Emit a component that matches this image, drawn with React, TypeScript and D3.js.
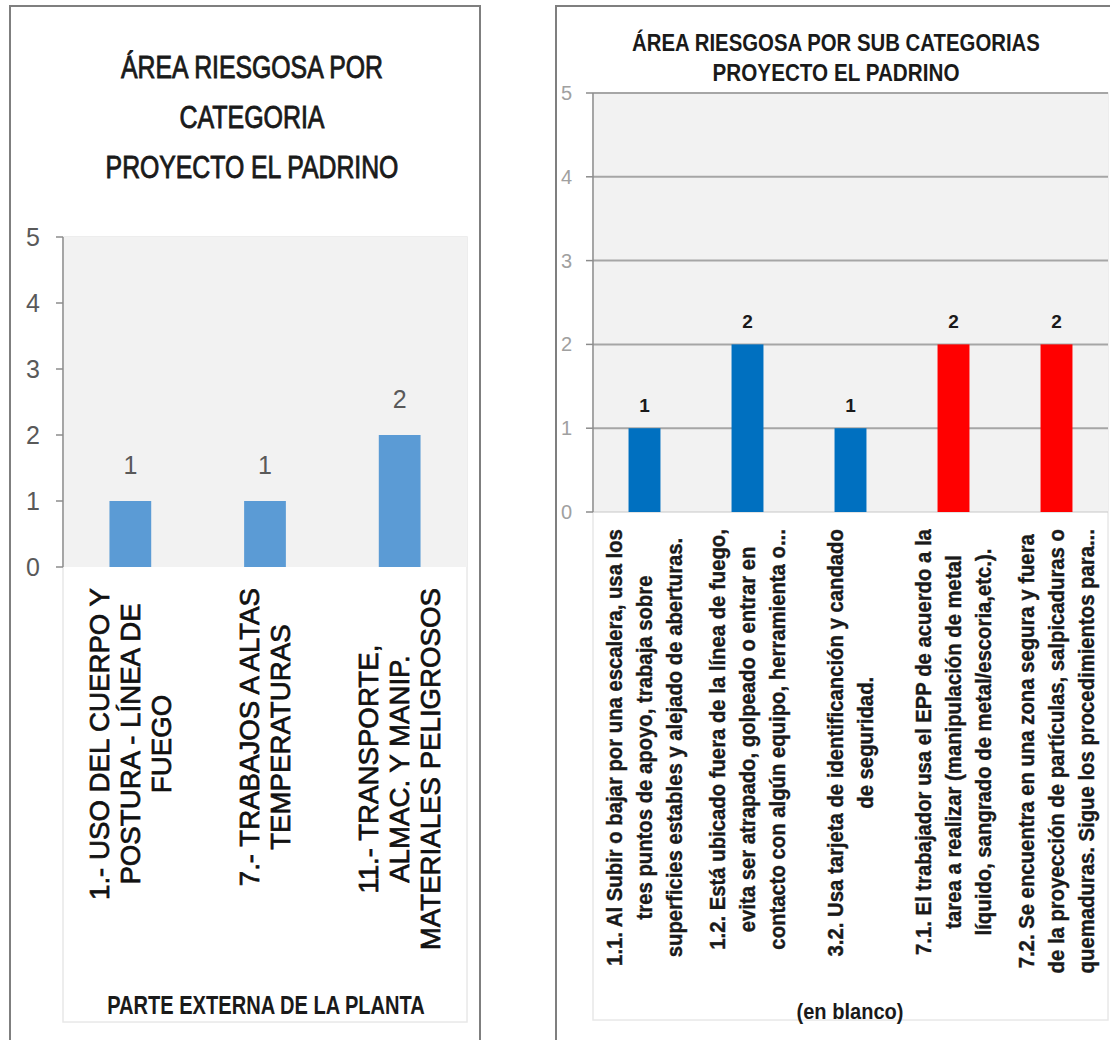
import React, { useEffect, useRef } from "react";
import * as d3 from "d3";

// ---------- DATA ----------
const leftTitle = ["ÁREA RIESGOSA POR", "CATEGORIA", "PROYECTO EL PADRINO"];
const leftCategories = [
  ["1.- USO DEL CUERPO Y", "POSTURA - LÍNEA DE", "FUEGO"],
  ["7.- TRABAJOS A ALTAS", "TEMPERATURAS"],
  ["11.- TRANSPORTE,", "ALMAC. Y MANIP.", "MATERIALES PELIGROSOS"],
];
const leftValues = [1, 1, 2];
const leftAxisTitle = "PARTE EXTERNA DE LA PLANTA";

const yTicks = [0, 1, 2, 3, 4, 5];

const rightTitle = ["ÁREA RIESGOSA POR SUB CATEGORIAS", "PROYECTO EL PADRINO"];
const rightCategories = [
  [
    "1.1. Al Subir o bajar por una escalera, usa los",
    "tres puntos de apoyo, trabaja sobre",
    "superficies estables y alejado de aberturas.",
  ],
  [
    "1.2. Está ubicado fuera de la línea de fuego,",
    "evita ser atrapado, golpeado o entrar en",
    "contacto con algún equipo, herramienta o...",
  ],
  ["3.2. Usa tarjeta de identificanción y candado", "de seguridad."],
  [
    "7.1. El trabajador usa el EPP de acuerdo a la",
    "tarea a realizar (manipulación de metal",
    "líquido, sangrado de metal/escoria,etc.).",
  ],
  [
    "7.2. Se encuentra en una zona segura y fuera",
    "de la proyección de partículas, salpicaduras o",
    "quemaduras. Sigue los procedimientos para...",
  ],
];
const rightValues = [1, 2, 1, 2, 2];
const rightGroups = ["1", "1", "3", "7", "7"];
const rightAxisTitle = "(en blanco)";

// ---------- STYLE ----------
const FONT = "'Liberation Sans', Arial, sans-serif";
const groupColor: Record<string, string> = { "1": "#0070c0", "3": "#0070c0", "7": "#ff0000" };

type Sel = d3.Selection<SVGSVGElement, unknown, null, undefined>;

// Horizontally condensed text (imitates the narrow Calibri face of the original)
function condensedText(
  svg: Sel,
  text: string,
  o: { x: number; y: number; width: number; size: number; weight: string; fill: string; stroke?: number }
) {
  const t = svg
    .append("text")
    .attr("font-family", FONT)
    .attr("font-size", o.size)
    .attr("font-weight", o.weight)
    .attr("fill", o.fill)
    .attr("text-anchor", "middle")
    .text(text);
  if (o.stroke) t.attr("stroke", o.fill).attr("stroke-width", o.stroke);
  const natural = (t.node() as SVGTextElement).getComputedTextLength();
  const sx = o.width / natural;
  t.attr("transform", `translate(${o.x},${o.y}) scale(${sx},1)`);
  return t;
}

function rotatedLabels(
  svg: Sel,
  cats: string[][],
  x: d3.ScaleBand<number>,
  opts: {
    top: number;
    gap: number;
    size: number;
    weight: string;
    fill: string;
    refLen: number;
    stroke: number;
  }
) {
  const g = svg.append("g");
  const probe = g
    .append("text")
    .attr("font-family", FONT)
    .attr("font-size", opts.size)
    .attr("font-weight", opts.weight)
    .text(cats[0][0]);
  const natural = (probe.node() as SVGTextElement).getComputedTextLength();
  probe.remove();
  const sx = opts.refLen / natural;

  cats.forEach((lines, i) => {
    const cx = (x(i) as number) + x.bandwidth() / 2;
    const texts = lines.map((line) =>
      g
        .append("text")
        .attr("font-family", FONT)
        .attr("font-size", opts.size)
        .attr("font-weight", opts.weight)
        .attr("fill", opts.fill)
        .attr("stroke", opts.fill)
        .attr("stroke-width", opts.stroke)
        .attr("text-anchor", "middle")
        .text(line)
    );
    const maxLen = d3.max(texts, (t) => (t.node() as SVGTextElement).getComputedTextLength()) as number;
    const cy = opts.top + (maxLen * sx) / 2;
    const n = lines.length;
    texts.forEach((t, j) => {
      const lx = cx + (j - (n - 1) / 2) * opts.gap + opts.size * 0.36;
      t.attr("transform", `translate(${lx},${cy}) rotate(-90) scale(${sx},1)`);
    });
  });
}

function drawLeft(svg: Sel) {
  svg
    .append("rect")
    .attr("x", 10)
    .attr("y", 6)
    .attr("width", 470)
    .attr("height", 1060)
    .attr("fill", "#fff")
    .attr("stroke", "#7f7f7f")
    .attr("stroke-width", 2);

  const titleW = [262, 145, 293];
  leftTitle.forEach((t, i) => {
    condensedText(svg, t, {
      x: 252,
      y: 78 + i * 50,
      width: titleW[i],
      size: 31,
      weight: "normal",
      fill: "#1a1a1a",
      stroke: 0.9,
    });
  });

  const x = d3
    .scaleBand<number>()
    .domain(d3.range(leftValues.length))
    .range([63, 467])
    .paddingInner(0.69)
    .paddingOuter(0.345);
  const y = d3.scaleLinear().domain([0, 5]).range([567, 237]);

  svg
    .append("rect")
    .attr("x", 63)
    .attr("y", y(5))
    .attr("width", 404)
    .attr("height", 785)
    .attr("fill", "none")
    .attr("stroke", "#e8e8e8")
    .attr("stroke-width", 1.5);
  svg
    .append("rect")
    .attr("x", 63)
    .attr("y", y(5))
    .attr("width", 404)
    .attr("height", y(0) - y(5))
    .attr("fill", "#f2f2f2");

  svg
    .append("line")
    .attr("x1", 63)
    .attr("x2", 63)
    .attr("y1", y(0))
    .attr("y2", y(5))
    .attr("stroke", "#8c8c8c")
    .attr("stroke-width", 1.5);
  yTicks.forEach((t) => {
    svg
      .append("line")
      .attr("x1", 56)
      .attr("x2", 63)
      .attr("y1", y(t))
      .attr("y2", y(t))
      .attr("stroke", "#8c8c8c")
      .attr("stroke-width", 1.5);
    svg
      .append("text")
      .attr("x", 40)
      .attr("y", y(t) + 9)
      .attr("text-anchor", "end")
      .attr("font-family", FONT)
      .attr("font-size", 25)
      .attr("fill", "#595959")
      .text(t);
  });

  svg
    .append("g")
    .selectAll("rect")
    .data(leftValues)
    .join("rect")
    .attr("x", (_, i) => x(i) as number)
    .attr("width", x.bandwidth())
    .attr("y", (d) => y(d))
    .attr("height", (d) => y(0) - y(d))
    .attr("fill", "#5b9bd5");

  svg
    .append("g")
    .selectAll("text")
    .data(leftValues)
    .join("text")
    .attr("x", (_, i) => (x(i) as number) + x.bandwidth() / 2)
    .attr("y", (d) => y(d) - 27)
    .attr("text-anchor", "middle")
    .attr("font-family", FONT)
    .attr("font-size", 25)
    .attr("fill", "#595959")
    .text((d) => d);

  rotatedLabels(svg, leftCategories, x, {
    top: 588,
    gap: 31,
    size: 27,
    weight: "normal",
    fill: "#111",
    refLen: 312,
    stroke: 0.7,
  });

  condensedText(svg, leftAxisTitle, {
    x: 266,
    y: 1014,
    width: 318,
    size: 25,
    weight: "bold",
    fill: "#1a1a1a",
  });
}

function drawRight(svg: Sel) {
  svg
    .append("rect")
    .attr("x", 556)
    .attr("y", 6)
    .attr("width", 600)
    .attr("height", 1060)
    .attr("fill", "#fff")
    .attr("stroke", "#7f7f7f")
    .attr("stroke-width", 2);

  const titleW = [408, 247];
  rightTitle.forEach((t, i) => {
    condensedText(svg, t, {
      x: 836,
      y: 51 + i * 30,
      width: titleW[i],
      size: 23,
      weight: "bold",
      fill: "#1a1a1a",
    });
  });

  const x = d3
    .scaleBand<number>()
    .domain(d3.range(rightValues.length))
    .range([593, 1108])
    .paddingInner(0.69)
    .paddingOuter(0.345);
  const y = d3.scaleLinear().domain([0, 5]).range([512, 93]);

  svg
    .append("rect")
    .attr("x", 593)
    .attr("y", y(5))
    .attr("width", 515)
    .attr("height", 927)
    .attr("fill", "none")
    .attr("stroke", "#e8e8e8")
    .attr("stroke-width", 1.5);
  svg
    .append("rect")
    .attr("x", 593)
    .attr("y", y(5))
    .attr("width", 515)
    .attr("height", y(0) - y(5))
    .attr("fill", "#f2f2f2");

  yTicks.forEach((t) => {
    svg
      .append("line")
      .attr("x1", 593)
      .attr("x2", 1108)
      .attr("y1", y(t))
      .attr("y2", y(t))
      .attr("stroke", t === 0 ? "#c8c8c8" : "#a6a6a6")
      .attr("stroke-width", t === 0 ? 1 : 2);
    svg
      .append("line")
      .attr("x1", 586)
      .attr("x2", 593)
      .attr("y1", y(t))
      .attr("y2", y(t))
      .attr("stroke", "#8c8c8c")
      .attr("stroke-width", 1.5);
    svg
      .append("text")
      .attr("x", 572)
      .attr("y", y(t) + 7)
      .attr("text-anchor", "end")
      .attr("font-family", FONT)
      .attr("font-size", 20)
      .attr("fill", "#a0a0a0")
      .text(t);
  });
  svg
    .append("line")
    .attr("x1", 593)
    .attr("x2", 593)
    .attr("y1", y(0))
    .attr("y2", y(5))
    .attr("stroke", "#8c8c8c")
    .attr("stroke-width", 1.5);

  svg
    .append("g")
    .selectAll("rect")
    .data(rightValues)
    .join("rect")
    .attr("x", (_, i) => x(i) as number)
    .attr("width", x.bandwidth())
    .attr("y", (d) => y(d))
    .attr("height", (d) => y(0) - y(d))
    .attr("fill", (_, i) => groupColor[rightGroups[i]]);

  svg
    .append("g")
    .selectAll("text")
    .data(rightValues)
    .join("text")
    .attr("x", (_, i) => (x(i) as number) + x.bandwidth() / 2)
    .attr("y", (d) => y(d) - 16)
    .attr("text-anchor", "middle")
    .attr("font-family", FONT)
    .attr("font-size", 19)
    .attr("font-weight", "bold")
    .attr("fill", "#1a1a1a")
    .text((d) => d);

  rotatedLabels(svg, rightCategories, x, {
    top: 529,
    gap: 30,
    size: 22,
    weight: "bold",
    fill: "#1a1a1a",
    refLen: 437,
    stroke: 0.4,
  });

  condensedText(svg, rightAxisTitle, {
    x: 850,
    y: 1019,
    width: 107,
    size: 22,
    weight: "bold",
    fill: "#1a1a1a",
  });
}

export default function App() {
  const ref = useRef<SVGSVGElement>(null);
  useEffect(() => {
    const svg = d3.select(ref.current as SVGSVGElement) as Sel;
    svg.selectAll("*").remove();
    drawLeft(svg);
    drawRight(svg);
  }, []);
  return (
    <svg
      ref={ref}
      width={1110}
      height={1040}
      style={{ position: "absolute", left: 0, top: 0, background: "#fff" }}
    />
  );
}
